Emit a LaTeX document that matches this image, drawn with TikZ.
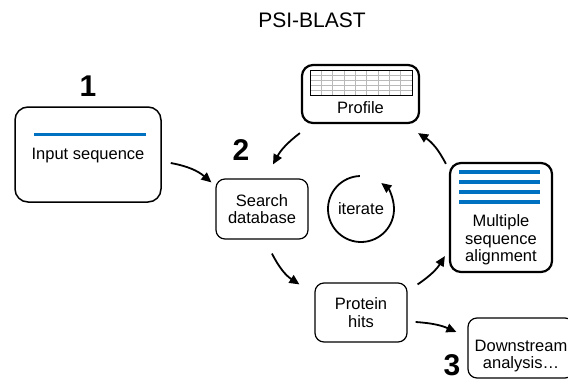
\documentclass[tikz,border=0pt]{standalone}
\usepackage{fontspec}
\setmainfont{Liberation Sans}
\usetikzlibrary{arrows.meta}
\definecolor{seqblue}{RGB}{0,112,192}
\tikzset{
  box/.style={draw, rounded corners=9pt, line width=1.2pt, align=center, inner sep=0pt,
    font=\fontsize{16.5}{17.5}\selectfont},
  heavybox/.style={box, line width=2.2pt, rounded corners=11pt},
  txt/.style={align=center, inner sep=0pt, font=\fontsize{16.5}{17.5}\selectfont},
  num/.style={inner sep=0pt, font=\fontsize{30}{30}\selectfont\bfseries},
  arr/.style={line width=1.8pt, -{Triangle[length=10pt,width=9pt]}},
  seqline/.style={seqblue, line width=3pt},
  gridline/.style={gray!55, line width=0.5pt}
}
\begin{document}
\begin{tikzpicture}[x=1pt,y=-1pt]
\useasboundingbox (0,0) rectangle (568,381);

\node[font=\fontsize{21}{23}\selectfont] (title) at (312,20) {PSI-BLAST};

% Input sequence
\node[box, line width=1.5pt, rounded corners=13pt, minimum width=146pt, minimum height=95pt] (input) at (88,154.5) {};
\draw[seqline] (34,134) -- (146,134);
\node[txt] (inputtxt) at (88,156) {Input sequence};
\node[num] (n1) at (88,86) {1};

% Search database
\node[box, minimum width=92pt, minimum height=60pt] (search) at (262,209) {Search\\database};
\node[num] (n2) at (241,150) {2};

% Profile
\node[heavybox, minimum width=117pt, minimum height=58pt] (profile) at (360.5,94) {};
\foreach \i in {1,...,8} \draw[gridline] ({310+\i*102/9},70) -- ({310+\i*102/9},95);
\foreach \j in {1,...,4} \draw[gridline] (310,{70+\j*5}) -- (412,{70+\j*5});
\draw[line width=0.7pt] (310,70) rectangle (412,95);
\node[txt] (proftxt) at (360.5,108) {Profile};

% Iterate
\node[txt] (iter) at (361,209) {iterate};
\draw[arr] ([shift={(92:33pt)}]iter.center) arc[start angle=92, end angle=412, radius=33pt];

% MSA
\node[heavybox, minimum width=102pt, minimum height=109pt] (msa) at (501,217.5) {};
\foreach \y in {172,182,192,202} \draw[seqline, line width=3.5pt] (459,\y) -- (540,\y);
\node[txt] (msatxt) at (501,240) {Multiple\\sequence\\alignment};

% Protein hits
\node[box, minimum width=92pt, minimum height=59pt] (protein) at (361,312.5) {Protein\\hits};

% Downstream
\node[box, minimum width=106pt, minimum height=60pt] (downstream) at (521,348) {};
\node[txt] (downtxt) at (521,356) {Downstream\\analysis\ldots};
\node[num] (n3) at (452,365.5) {3};

% Arrows
\draw[arr] ([xshift=9pt,yshift=-8.5pt]input.east) to[bend left=15] ([xshift=-4pt,yshift=-4pt]search.north west);
\draw[arr] ([xshift=-1pt,yshift=-9pt]profile.south west) to[bend right=12] ([xshift=11pt,yshift=14pt]search.north);
\draw[arr] ([xshift=-3pt,yshift=-2pt]msa.north west) to[bend right=15] ([xshift=-2pt,yshift=-9pt]profile.south east);
\draw[arr] ([xshift=10pt,yshift=-14pt]search.south) to[bend right=15] ([xshift=-15pt,yshift=-2pt]protein.north west);
\draw[arr] ([xshift=10pt,yshift=-2pt]protein.north east) to[bend right=12] ([xshift=-4pt,yshift=17pt]msa.south west);
\draw[arr] ([xshift=8pt,yshift=-9.5pt]protein.east) to[bend left=10] ([xshift=-11pt,yshift=16pt]downstream.west);
\end{tikzpicture}
\end{document}
